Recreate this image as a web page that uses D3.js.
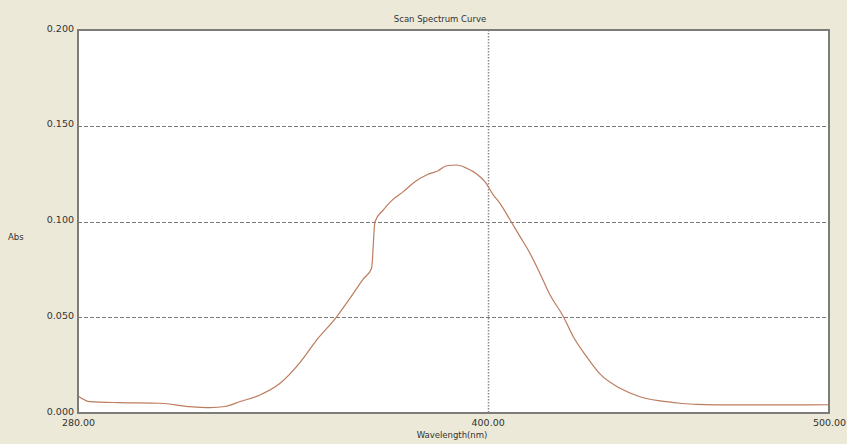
<!DOCTYPE html>
<html>
<head>
  <meta charset="utf-8">
  <title>Scan Spectrum Curve</title>
  <style>
    body { margin: 0; background: #ece9d8; }
    svg { display: block; }
    text { font-family: "DejaVu Sans", Arial, sans-serif; font-size: 8.5px; fill: #333; }
  </style>
  <script src="https://d3js.org/d3.v7.min.js"></script>
</head>
<body>
  <svg id="chart"></svg>
  <script>
    var width = 847,
        height = 444;

    // spectrum (nm, Abs)
    var wavelength = [280.0, 283.5, 292.3, 304.0, 312.8, 318.7, 323.1, 327.5, 333.3, 339.2,
                      345.0, 349.9, 355.6, 359.7, 363.6, 366.0, 367.0, 369.4, 371.9, 375.3,
                      378.7, 382.1, 385.5, 388.0, 390.9, 393.9, 396.8, 399.2, 401.7, 403.6,
                      406.6, 409.5, 412.4, 415.3, 418.3, 422.2, 425.1, 429.0, 432.9, 438.8,
                      444.6, 450.5, 456.4, 461.2, 471.9, 485.6, 500.0];
    var absorbance = [0.0089, 0.0059, 0.0054, 0.0051, 0.0033, 0.0028, 0.0034, 0.0060, 0.0094, 0.0155,
                      0.0263, 0.0381, 0.0498, 0.0600, 0.0700, 0.0756, 0.0999, 0.1060, 0.1109, 0.1156,
                      0.1208, 0.1243, 0.1265, 0.1291, 0.1295, 0.1278, 0.1248, 0.1208, 0.1138, 0.1095,
                      0.1008, 0.0921, 0.0834, 0.0730, 0.0616, 0.0503, 0.0398, 0.0294, 0.0204, 0.0129,
                      0.0085, 0.0063, 0.0051, 0.0045, 0.0042, 0.0042, 0.0043];

    var xTicks = [280, 400, 500];
    var yTicks = [0, 0.05, 0.1, 0.15, 0.2];
    var yGrid = [0.05, 0.1, 0.15];
    var xGrid = [400];

    var margin = {top: 30, right: 18, bottom: 31, left: 78};

    var svg = d3.select("#chart")
        .attr("width", width)
        .attr("height", height);

    var x = d3.scaleLinear()
        .domain([280, 500])
        .range([margin.left, width - margin.right]);

    var y = d3.scaleLinear()
        .domain([0, 0.2])
        .range([height - margin.bottom, margin.top]);

    svg.append("rect")
        .attr("width", width)
        .attr("height", height)
        .attr("fill", "#ece9d8");

    svg.append("rect")
        .attr("x", margin.left)
        .attr("y", margin.top)
        .attr("width", width - margin.left - margin.right)
        .attr("height", height - margin.top - margin.bottom)
        .attr("fill", "#ffffff");

    svg.append("clipPath").attr("id", "clip")
      .append("rect")
        .attr("x", margin.left)
        .attr("y", margin.top)
        .attr("width", width - margin.left - margin.right)
        .attr("height", height - margin.top - margin.bottom);

    // grid
    svg.append("g")
        .selectAll("line")
        .data(yGrid)
        .join("line")
        .attr("x1", margin.left)
        .attr("x2", width - margin.right)
        .attr("y1", d => Math.round(y(d)) + 0.5)
        .attr("y2", d => Math.round(y(d)) + 0.5)
        .attr("stroke", "#7a7a7a")
        .attr("stroke-dasharray", "4,2");

    svg.append("g")
        .selectAll("line")
        .data(xGrid)
        .join("line")
        .attr("x1", d => Math.round(x(d)) + 0.5)
        .attr("x2", d => Math.round(x(d)) + 0.5)
        .attr("y1", margin.top)
        .attr("y2", height - margin.bottom)
        .attr("stroke", "#8a8a8a")
        .attr("stroke-width", 1.5)
        .attr("stroke-dasharray", "1.5,1.5");

    // curve
    var line = d3.line()
        .x((d, i) => x(wavelength[i]))
        .y(d => y(d))
        .curve(d3.curveMonotoneX);

    svg.append("path")
        .datum(absorbance)
        .attr("clip-path", "url(#clip)")
        .attr("fill", "none")
        .attr("stroke", "#bc7c5e")
        .attr("stroke-width", 1.2)
        .attr("d", line);

    // frame
    svg.append("rect")
        .attr("x", margin.left)
        .attr("y", margin.top)
        .attr("width", width - margin.left - margin.right)
        .attr("height", height - margin.top - margin.bottom)
        .attr("fill", "none")
        .attr("stroke", "#7c7c78")
        .attr("stroke-width", 2);

    // axes
    var yAxis = svg.append("g")
        .attr("transform", "translate(" + (margin.left - 4) + ",-2)")
        .call(d3.axisLeft(y).tickValues(yTicks).tickFormat(d3.format(".3f")).tickSize(0).tickPadding(0));
    yAxis.select(".domain").remove();

    var xAxis = svg.append("g")
        .attr("transform", "translate(0," + (height - margin.bottom + 5) + ")")
        .call(d3.axisBottom(x).tickValues(xTicks).tickFormat(d3.format(".2f")).tickSize(0).tickPadding(1));
    xAxis.select(".domain").remove();

    svg.selectAll(".tick text")
        .style("font-family", "DejaVu Sans, Arial, sans-serif")
        .style("font-size", "9.5px")
        .attr("fill", "#333");

    svg.append("text")
        .attr("x", 440)
        .attr("y", 22)
        .attr("text-anchor", "middle")
        .text("Scan Spectrum Curve");

    svg.append("text")
        .attr("x", 8)
        .attr("y", 240)
        .text("Abs");

    svg.append("text")
        .attr("x", 452)
        .attr("y", 438)
        .attr("text-anchor", "middle")
        .text("Wavelength(nm)");
  </script>
</body>
</html>
